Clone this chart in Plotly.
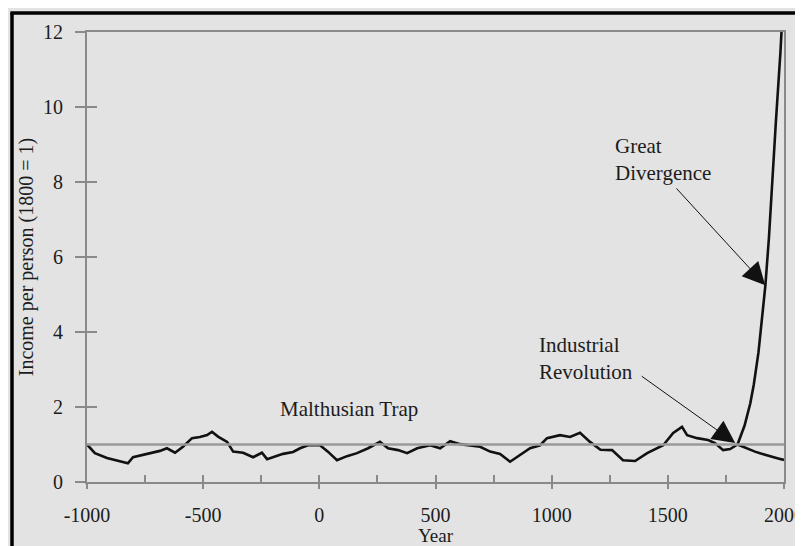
import plotly.graph_objects as go

# ---- data ----
malthus_years = [-1000, -966, -914, -858, -824, -802, -742, -686, -656, -621, -587, -548, -514, -483,
                 -462, -436, -397, -371, -328, -285, -247, -225, -156, -113, -83, -49, 3, 37, 76,
                 119, 162, 210, 261, 296, 339, 378, 421, 477, 520, 563, 606, 649, 692, 735, 778,
                 821, 864, 907, 950, 980, 1036, 1079, 1122, 1165, 1210, 1260, 1307, 1359, 1411,
                 1480, 1523, 1561, 1583, 1626, 1673, 1703, 1738, 1768, 1800]
malthus_vals = [1.0, 0.77, 0.64, 0.56, 0.50, 0.66, 0.75, 0.83, 0.90, 0.78, 0.94, 1.17, 1.20, 1.25,
                1.34, 1.21, 1.07, 0.81, 0.78, 0.66, 0.78, 0.61, 0.75, 0.80, 0.90, 0.98, 0.98, 0.81, 0.58,
                0.69, 0.77, 0.90, 1.07, 0.90, 0.85, 0.77, 0.90, 0.98, 0.90, 1.09, 1.01, 0.98, 0.94, 0.81, 0.75,
                0.54, 0.72, 0.90, 0.98, 1.17, 1.25, 1.20, 1.31, 1.07, 0.86, 0.85, 0.58, 0.56, 0.77,
                0.98, 1.31, 1.47, 1.25, 1.17, 1.12, 1.04, 0.85, 0.88, 1.0]

rich_years = [1800, 1810, 1830, 1855, 1870, 1890, 1905, 1920, 1935, 1950, 1965, 1985, 2000]
rich_vals = [1.0, 1.15, 1.5, 2.1, 2.6, 3.45, 4.3, 5.25, 6.5, 7.9, 9.6, 11.5, 13.3]

poor_years = [1800, 1825, 1850, 1875, 1900, 1925, 1950, 1975, 2000]
poor_vals = [1.0, 0.93, 0.87, 0.81, 0.76, 0.71, 0.67, 0.63, 0.59]

ref_years = [-1000, 2000]
ref_vals = [1, 1]

x_ticks = [-1000, -500, 0, 500, 1000, 1500, 2000]
x_tick_labels = ["-1000", "-500", "0", "500", "1000", "1500", "2000"]
y_ticks = [0, 2, 4, 6, 8, 10, 12]
y_tick_labels = ["0", "2", "4", "6", "8", "10", "12"]

FONT = "Liberation Serif"
BG = "#e3e3e3"
AX = "#8a8a8a"
TXT = "#1c1c1c"

fig = go.Figure()
fig.add_trace(go.Scatter(x=ref_years, y=ref_vals, mode="lines",
                         line=dict(color="#9a9a9a", width=2.5), xaxis="x2", yaxis="y2",
                         hoverinfo="skip", showlegend=False))
for xs, ys in [(malthus_years, malthus_vals), (rich_years, rich_vals), (poor_years, poor_vals)]:
    fig.add_trace(go.Scatter(x=xs, y=ys, mode="lines",
                             line=dict(color="#111111", width=2.6), showlegend=False))

axis_common = dict(showgrid=False, zeroline=False, showline=True, linecolor=AX, linewidth=2,
                   mirror=True, tickcolor=AX, tickwidth=1.5, automargin=False,
                   ticklabeloverflow="allow",
                   tickfont=dict(family=FONT, size=20, color=TXT))

fig.update_layout(
    width=795, height=538,
    paper_bgcolor=BG, plot_bgcolor=BG,
    margin=dict(l=79, r=19, t=24, b=64),
    xaxis=dict(range=[-1000, 2000], tickvals=x_ticks, ticktext=x_tick_labels, ticks="outside", ticklen=5,
               ticklabelstandoff=9,
               title=dict(text="Year", font=dict(family=FONT, size=19, color=TXT), standoff=13),
               **axis_common),
    yaxis=dict(range=[0, 12], tickvals=y_ticks, ticktext=y_tick_labels, ticks="outside", ticklen=10,
               ticklabelstandoff=8,
               title=dict(text="Income per person (1800 = 1)", font=dict(family=FONT, size=20, color=TXT),
                          standoff=4),
               **axis_common),
    xaxis2=dict(range=[-1000, 2000], overlaying="x", anchor="y2", dtick=250, tick0=-1000,
                ticks="inside", ticklen=7, tickcolor=AX, tickwidth=1.5, showticklabels=False,
                showgrid=False, zeroline=False, showline=False),
    yaxis2=dict(range=[0, 12], overlaying="y", anchor="x2", dtick=2, tick0=0,
                ticks="inside", ticklen=10, tickcolor=AX, tickwidth=1.5, showticklabels=False,
                showgrid=False, zeroline=False, showline=False),
    showlegend=False,
)

# black frame lines (left and top)
fig.add_shape(type="line", xref="paper", yref="paper", x0=-0.1076, x1=-0.1076, y0=1.042, y1=-0.2,
              line=dict(color="black", width=3.5))
fig.add_shape(type="line", xref="paper", yref="paper", x0=-0.11, x1=1.1, y0=1.042, y1=1.042,
              line=dict(color="black", width=3.5))

txt_font = dict(family=FONT, size=21, color=TXT)
fig.add_annotation(x=128, y=1.95, text="Malthusian Trap", showarrow=False, font=txt_font,
                   xanchor="center", yanchor="middle")
fig.add_annotation(x=937, y=3.3, text="Industrial<br>Revolution", showarrow=False, font=txt_font,
                   xanchor="left", yanchor="middle", align="left")
fig.add_annotation(x=1264, y=8.6, text="Great<br>Divergence", showarrow=False, font=txt_font,
                   xanchor="left", yanchor="middle", align="left")

# arrows
fig.add_annotation(x=1790, y=1.04, ax=1381, ay=2.85, axref="x", ayref="y", text="",
                   showarrow=True, arrowhead=2, arrowsize=4.5, arrowwidth=1, arrowcolor="#111111")
fig.add_annotation(x=1919, y=5.25, ax=1531, ay=7.87, axref="x", ayref="y", text="",
                   showarrow=True, arrowhead=2, arrowsize=4.5, arrowwidth=1, arrowcolor="#111111")

fig.write_html("out.html")
